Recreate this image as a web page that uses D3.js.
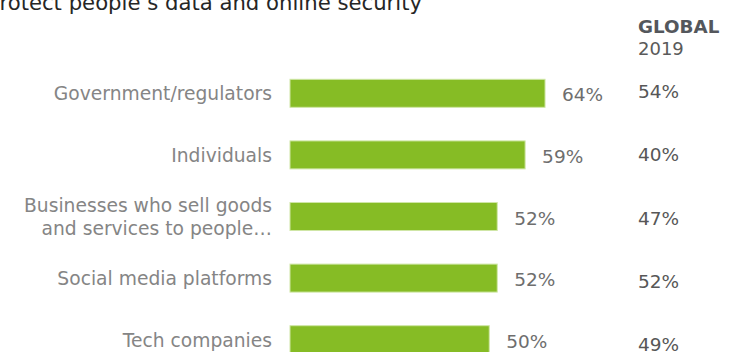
<!DOCTYPE html>
<html>
<head>
<meta charset="utf-8">
<script src="https://cdn.jsdelivr.net/npm/d3@7"></script>
<style>
  html, body { margin: 0; padding: 0; background: #ffffff; }
  svg { display: block; font-family: "DejaVu Sans", Verdana, sans-serif; }
</style>
</head>
<body>
<svg id="chart" width="746" height="352"></svg>
<script>
// Who should be responsible for protecting people's data and online security
const categories = [
  "Government/regulators",
  "Individuals",
  "Businesses who sell goods and services to people…",
  "Social media platforms",
  "Tech companies"
];
// Category labels as drawn, split into lines
const categoryLines = [
  ["Government/regulators"],
  ["Individuals"],
  ["Businesses who sell goods", "and services to people…"],
  ["Social media platforms"],
  ["Tech companies"]
];
const values = [64, 59, 52, 52, 50];       // current survey, %
const global2019 = [54, 40, 47, 52, 49];   // global comparison, %
const titleText = "protect people’s data and online security";
const columnHeader = ["GLOBAL", "2019"];

const rows = categories.map((c, i) => ({
  cat: c, lines: categoryLines[i], value: values[i], global: global2019[i]
}));

const svg = d3.select("#chart");

const x = d3.scaleLinear().domain([0, 100]).range([290, 688.5]);
const y = d3.scaleBand().domain(categories).range([79.3, 353.7])
  .paddingInner(0.5455).paddingOuter(0);
const yGlobal = d3.scalePoint().domain(categories).range([98, 351]);

// Title (runs past the left edge)
svg.append("text")
  .attr("x", 422).attr("y", 10)
  .attr("text-anchor", "end")
  .attr("font-size", 21.2)
  .attr("fill", "#262626")
  .text(titleText);

// Comparison column header
svg.append("text")
  .attr("x", 638).attr("y", 33)
  .attr("font-size", 18.3).attr("font-weight", "bold")
  .attr("fill", "#54575c")
  .text(columnHeader[0]);
svg.append("text")
  .attr("x", 638).attr("y", 55)
  .attr("font-size", 18)
  .attr("fill", "#5a5a5a")
  .text(columnHeader[1]);

// Bars
svg.append("g").selectAll("rect")
  .data(rows).join("rect")
  .attr("x", x(0))
  .attr("y", d => y(d.cat))
  .attr("width", d => x(d.value) - x(0))
  .attr("height", y.bandwidth())
  .attr("fill", "#86bc25")
  .attr("stroke", "#cfe6a6")
  .attr("stroke-width", 1);

// Category labels
const lineH = 22.7;
svg.append("g").selectAll("text")
  .data(rows).join("text")
  .attr("text-anchor", "end")
  .attr("font-size", 18.7)
  .attr("fill", "#858585")
  .each(function (d) {
    const cy = y(d.cat) + y.bandwidth() / 2;
    const first = cy + 7 - (d.lines.length - 1) * lineH / 2;
    d3.select(this).selectAll("tspan")
      .data(d.lines).join("tspan")
      .attr("x", 272)
      .attr("y", (t, k) => first + k * lineH)
      .text(t => t);
  });

// Value labels beside bars
svg.append("g").selectAll("text")
  .data(rows).join("text")
  .attr("x", d => x(d.value) + 17)
  .attr("y", d => y(d.cat) + y.bandwidth() / 2 + 8)
  .attr("font-size", 18.5)
  .attr("fill", "#6e6e6e")
  .text(d => d.value + "%");

// Global 2019 values
svg.append("g").selectAll("text")
  .data(rows).join("text")
  .attr("x", 638)
  .attr("y", d => yGlobal(d.cat))
  .attr("font-size", 18.5)
  .attr("fill", "#575757")
  .text(d => d.global + "%");
</script>
</body>
</html>
